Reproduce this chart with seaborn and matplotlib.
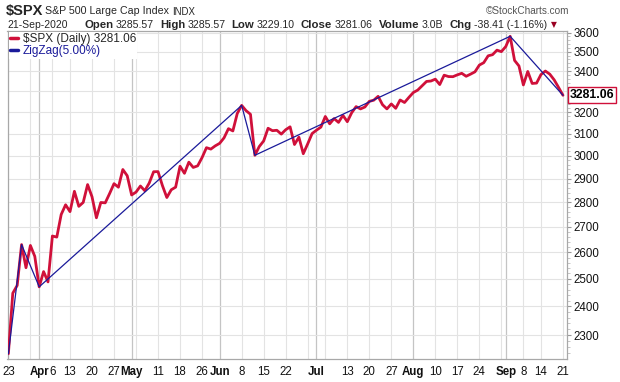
import numpy as np
import pandas as pd
import matplotlib
matplotlib.use("Agg")
import matplotlib.pyplot as plt
import seaborn as sns
from matplotlib.ticker import FixedLocator, NullFormatter, FixedFormatter

# ---------------- data ----------------
holidays = ["2020-04-10", "2020-05-25", "2020-07-03", "2020-09-07"]
trading_days = pd.bdate_range("2020-03-23", "2020-09-21")
trading_days = trading_days[~trading_days.isin(pd.to_datetime(holidays))]

close = [
    2237.40, 2447.33, 2475.56, 2630.07, 2541.47,
    2626.65, 2584.59, 2470.50, 2526.90, 2488.65,
    2663.68, 2659.41, 2749.98, 2789.82,
    2761.63, 2846.06, 2783.36, 2799.55, 2874.56,
    2823.16, 2736.56, 2799.31, 2797.80, 2836.74,
    2878.48, 2863.39, 2939.51, 2912.43, 2830.71,
    2842.74, 2868.44, 2848.42, 2881.19, 2929.80,
    2930.32, 2870.12, 2820.00, 2852.50, 2863.70,
    2953.91, 2922.94, 2971.61, 2948.51, 2955.45,
    2991.77, 3036.13, 3029.73, 3044.31,
    3055.73, 3080.82, 3122.87, 3112.35, 3193.93,
    3232.39, 3207.18, 3190.14, 3002.10, 3041.31,
    3066.59, 3124.74, 3113.49, 3115.34, 3097.74,
    3117.86, 3131.29, 3050.33, 3083.76, 3009.05,
    3053.24, 3100.29, 3115.86, 3130.01,
    3179.72, 3145.32, 3169.94, 3152.05, 3185.04,
    3155.22, 3197.52, 3226.56, 3215.57, 3224.73,
    3251.84, 3257.30, 3276.02, 3235.66, 3215.63,
    3239.41, 3218.44, 3258.44, 3246.22, 3271.12,
    3294.61, 3306.51, 3327.77, 3349.16, 3351.28,
    3360.47, 3333.69, 3380.35, 3373.43, 3372.85,
    3381.99, 3389.78, 3374.85, 3385.51, 3397.16,
    3431.28, 3443.62, 3478.73, 3484.55, 3508.01,
    3500.31, 3526.65, 3580.84, 3455.06, 3426.96,
    3331.84, 3398.96, 3339.19, 3340.97,
    3383.54, 3401.20, 3385.49, 3357.01, 3319.47,
    3281.06,
]
zigzag_dates = ["2020-03-23", "2020-03-26", "2020-04-01", "2020-06-08",
                "2020-06-11", "2020-09-02", "2020-09-21"]
zigzag_values = [2237.40, 2630.07, 2470.50, 3232.39, 3002.10, 3580.84, 3281.06]
y_ticks = [2300, 2400, 2500, 2600, 2700, 2800, 2900, 3000,
           3100, 3200, 3300, 3400, 3500, 3600]
last_close = "3281.06"
header_fields = [("Open", "3285.57"), ("High", "3285.57"), ("Low", "3229.10"),
                 ("Close", "3281.06"), ("Volume", "3.0B"), ("Chg", "-38.41 (-1.16%)")]

assert len(close) == len(trading_days)

# ---------------- style ----------------
sns.set_style("white")
plt.rcParams["font.family"] = ["Liberation Sans", "DejaVu Sans"]

RED = "#D0103A"
NAVY = "#1A1A9A"
W, H = 620, 382

fig = plt.figure(figsize=(W / 100, H / 100), dpi=100)
left, right, top, bottom = 7.5, 566.5, 31, 359
ax = fig.add_axes([left / W, 1 - bottom / H, (right - left) / W, (bottom - top) / H])

df = pd.DataFrame({"i": np.arange(len(close)), "close": close})
zz_idx = trading_days.get_indexer(pd.to_datetime(zigzag_dates))
zdf = pd.DataFrame({"i": zz_idx, "v": zigzag_values})

# vertical grid: week starts (light) and month starts (darker)
week_start = [0] + [k for k in range(1, len(trading_days))
                    if trading_days[k].weekday() < trading_days[k - 1].weekday()]
month_start = [k for k in range(1, len(trading_days))
               if trading_days[k].month != trading_days[k - 1].month]
for k in week_start:
    if k not in month_start:
        ax.axvline(k, color="#e3e3e3", lw=0.8, zorder=0)
for k in month_start:
    ax.axvline(k, color="#c4c4c4", lw=0.9, zorder=0)

sns.lineplot(data=df, x="i", y="close", color=RED, lw=2.0, ax=ax,
             label=r"\$SPX (Daily) 3281.06", zorder=3)
sns.lineplot(data=zdf, x="i", y="v", color=NAVY, lw=0.9, ax=ax,
             label="ZigZag(5.00%)", zorder=4)

ax.set_yscale("log")
ax.set_ylim(2220, 3609)
ax.set_xlim(-0.2, len(close) - 1 + 0.8)
ax.set_xlabel("")
ax.set_ylabel("")

# y axis on the right (3300 label sits hidden behind the last-price box)
ax.yaxis.tick_right()
ax.yaxis.set_major_locator(FixedLocator(y_ticks))
ax.yaxis.set_major_formatter(FixedFormatter(
    ["" if abs(v - float(last_close)) < 40 else str(v) for v in y_ticks]))
ax.yaxis.set_minor_locator(FixedLocator(list(range(2240, 3620, 20))))
ax.yaxis.set_minor_formatter(NullFormatter())
ax.tick_params(axis="y", which="major", length=3, width=0.8, color="#999999",
               labelsize=8.3, pad=2, labelcolor="#111111", right=True, left=False)
ax.tick_params(axis="y", which="minor", length=2, width=0.6, color="#bbbbbb",
               right=True, left=False)
ax.grid(axis="y", which="major", color="#e3e3e3", lw=0.8, zorder=0)
ax.grid(axis="x", visible=False)
ax.set_axisbelow(True)

# x tick labels
lab_pos, lab_txt, lab_bold = [], [], []
for k in sorted(set(week_start) | set(month_start)):
    if k in month_start:
        lab_pos.append(k); lab_txt.append(trading_days[k].strftime("%b")); lab_bold.append(True)
    else:
        if any(abs(k - m) <= 2 for m in month_start):
            continue
        lab_pos.append(k); lab_txt.append(str(trading_days[k].day)); lab_bold.append(False)
ax.xaxis.set_major_locator(FixedLocator(lab_pos))
ax.set_xticklabels(lab_txt)
for t, b in zip(ax.get_xticklabels(), lab_bold):
    if b:
        t.set_fontweight("bold")
        t.set_fontsize(8.8)
ax.xaxis.set_minor_locator(FixedLocator(list(range(len(close)))))
ax.tick_params(axis="x", which="major", length=3, width=0.8, color="#999999",
               labelsize=8.3, pad=2, labelcolor="#111111")
ax.tick_params(axis="x", which="minor", length=2, width=0.6, color="#bbbbbb")

for s in ax.spines.values():
    s.set_color("#a8a8a8")
    s.set_linewidth(0.9)

# legend
leg = ax.legend(loc="upper left", bbox_to_anchor=(0.0, 1.0), frameon=True,
                fancybox=False, edgecolor="none", facecolor="white", framealpha=1,
                fontsize=8.5, handlelength=0.7, handletextpad=0.4, borderpad=0.1,
                labelspacing=0.0, borderaxespad=0.1)
for ln, c in zip(leg.get_lines(), [RED, NAVY]):
    ln.set_linewidth(2.5)
    ln.set_color(c)
leg.get_texts()[1].set_color(NAVY)
leg.set_zorder(10)

# last price box
ax.annotate(last_close, xy=(1.0, close[-1]), xycoords=("axes fraction", "data"),
            xytext=(2.5, 0), textcoords="offset points", ha="left", va="center",
            fontsize=8.8, fontweight="bold", color="black", zorder=12,
            bbox=dict(boxstyle="square,pad=0.15", fc="white", ec=RED, lw=1.0),
            annotation_clip=False)

# header
def px(x, y):
    return x / W, 1 - y / H

fig.text(*px(6, 11), r"\$SPX", fontsize=10.5, fontweight="bold", va="center")
fig.text(*px(45, 11.5), "S&P 500 Large Cap Index", fontsize=7.7, va="center")
fig.text(*px(172, 12), "INDX", fontsize=6.9, va="center")
fig.text(*px(486, 11), "\u00a9StockCharts.com", fontsize=7.2, color="#555555",
         va="center")
fig.text(*px(7, 24.5), "21-Sep-2020", fontsize=7.5, va="center")

# sequential layout of the field row
fig.canvas.draw()
renderer = fig.canvas.get_renderer()
xcur = 84.0
for lab, val in header_fields:
    t1 = fig.text(*px(xcur, 24.5), lab, fontsize=8.2, fontweight="bold", va="center")
    xcur += t1.get_window_extent(renderer).width + 2.5
    t2 = fig.text(*px(xcur, 24.5), val, fontsize=7.6, va="center")
    xcur += t2.get_window_extent(renderer).width + 6
fig.text(*px(xcur - 2, 24.5), "\u25bc", fontsize=5.5, color="#990022",
         va="center", family=["DejaVu Sans"])

fig.savefig("out.png", dpi=100)
